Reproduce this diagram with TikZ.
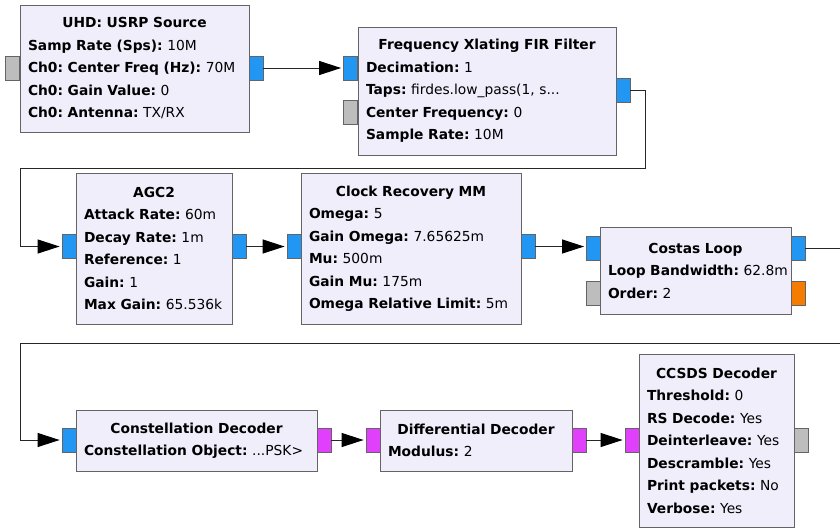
\documentclass[tikz,border=0pt]{standalone}
\usepackage{fontspec}
\setmainfont{DejaVu Sans}
\usetikzlibrary{arrows.meta}

\definecolor{blockfill}{RGB}{241,238,252}
\definecolor{blockline}{RGB}{100,100,100}
\definecolor{portblue}{RGB}{33,150,243}
\definecolor{portmag}{RGB}{224,64,251}
\definecolor{portorange}{RGB}{245,124,0}
\definecolor{portgrey}{RGB}{189,189,189}

\newcommand{\param}[2]{\mbox{\textbf{#1:} #2}}

\begin{document}
\frenchspacing
\begin{tikzpicture}
[x=1pt,y=-1pt,
 block/.style={shape=rectangle,draw=blockline,fill=blockfill,line width=1pt,
   align=left,inner xsep=8pt,inner ysep=0pt,
   font=\fontsize{13.8}{22.5}\selectfont},
 port/.style={shape=rectangle,draw=blockline,line width=0.8pt,
   minimum width=14pt,minimum height=24pt,inner sep=0pt},
 bport/.style={port,fill=portblue},
 mport/.style={port,fill=portmag},
 oport/.style={port,fill=portorange},
 gport/.style={port,fill=portgrey},
 wire/.style={draw=black!85,line width=1pt},
 flow/.style={wire,-{Triangle[length=22pt,width=14pt,color=black]},shorten >=2pt}]

\useasboundingbox (0,0) rectangle (840,528);

% ports
\node (uhdgrey) [gport] at (12.5,68) {};
\node (uhdout) [bport] at (256,68) {};
\node (fxfin) [bport] at (350.5,68) {};
\node (fxfgrey) [gport] at (350.5,112.5) {};
\node (fxfout) [bport] at (623,90) {};
\node (agcin) [bport] at (69,246.5) {};
\node (agcout) [bport] at (239,246.5) {};
\node (crmmin) [bport] at (294,246.5) {};
\node (crmmout) [bport] at (528,246.5) {};
\node (costasin) [bport] at (593.5,248.5) {};
\node (costasgrey) [gport] at (593.5,293) {};
\node (costasout) [bport] at (798,248.5) {};
\node (costasorange) [oport] at (798,293) {};
\node (cdin) [bport] at (69,440) {};
\node (cdout) [mport] at (324,440) {};
\node (ddin) [mport] at (373,440) {};
\node (ddout) [mport] at (579,440) {};
\node (ccsdsin) [mport] at (632,440) {};
\node (ccsdsgrey) [gport] at (801,440) {};

% blocks
\node (uhd) [block,minimum width=229pt,minimum height=127pt,text width=213pt]
  at (134.5,68.5)
  {{\centering\textbf{UHD: USRP Source}\par}
   \param{Samp Rate (Sps)}{10M}\\
   \param{Ch0: Center Freq (Hz)}{70M}\\
   \param{Ch0: Gain Value}{0}\\
   \param{Ch0: Antenna}{TX/RX}};

\node (fxf) [block,minimum width=258pt,minimum height=128pt,text width=242pt]
  at (487,91)
  {{\centering\textbf{Frequency Xlating FIR Filter}\par}
   \param{Decimation}{1}\\
   \param{Taps}{firdes.low\_pass(1, s...}\\
   \param{Center Frequency}{0}\\
   \param{Sample Rate}{10M}};

\node (agc) [block,minimum width=156pt,minimum height=151pt,text width=140pt]
  at (154,248.5)
  {{\centering\textbf{AGC2}\par}
   \param{Attack Rate}{60m}\\
   \param{Decay Rate}{1m}\\
   \param{Reference}{1}\\
   \param{Gain}{1}\\
   \param{Max Gain}{65.536k}};

\node (crmm) [block,minimum width=220pt,minimum height=151pt,text width=204pt]
  at (411,248.5)
  {{\centering\textbf{Clock Recovery MM}\par}
   \param{Omega}{5}\\
   \param{Gain Omega}{7.65625m}\\
   \param{Mu}{500m}\\
   \param{Gain Mu}{175m}\\
   \param{Omega Relative Limit}{5m}};

\node (costas) [block,minimum width=191pt,minimum height=87pt,text width=175pt]
  at (695.5,270.5)
  {{\centering\textbf{Costas Loop}\par}
   \param{Loop Bandwidth}{62.8m}\\
   \param{Order}{2}};

\node (cd) [block,minimum width=241pt,minimum height=61pt,text width=225pt]
  at (196.5,440.5)
  {{\centering\textbf{Constellation Decoder}\par}
   \param{Constellation Object}{...PSK>}};

\node (dd) [block,minimum width=192pt,minimum height=61pt,text width=176pt]
  at (476,440.5)
  {{\centering\textbf{Differential Decoder}\par}
   \param{Modulus}{2}};

\node (ccsds) [block,minimum width=155pt,minimum height=173pt,text width=139pt]
  at (716.5,440.5)
  {{\centering\textbf{CCSDS Decoder}\par}
   \param{Threshold}{0}\\
   \param{RS Decode}{Yes}\\
   \param{Deinterleave}{Yes}\\
   \param{Descramble}{Yes}\\
   \param{Print packets}{No}\\
   \param{Verbose}{Yes}};

% connections
\draw [flow] (uhdout.east) -- (fxfin.west);
\draw [flow] (fxfout.east) -- (645,90) |- (20,168) |- (agcin.west);
\draw [flow] (agcout.east) -- (crmmin.west);
\draw [flow] (crmmout.east) -- (costasin.west |- crmmout.east);
\draw [flow] (costasout.east) -- (850,248.5) |- (20,343) |- (cdin.west);
\draw [flow] (cdout.east) -- (ddin.west);
\draw [flow] (ddout.east) -- (ccsdsin.west);

\end{tikzpicture}
\end{document}
